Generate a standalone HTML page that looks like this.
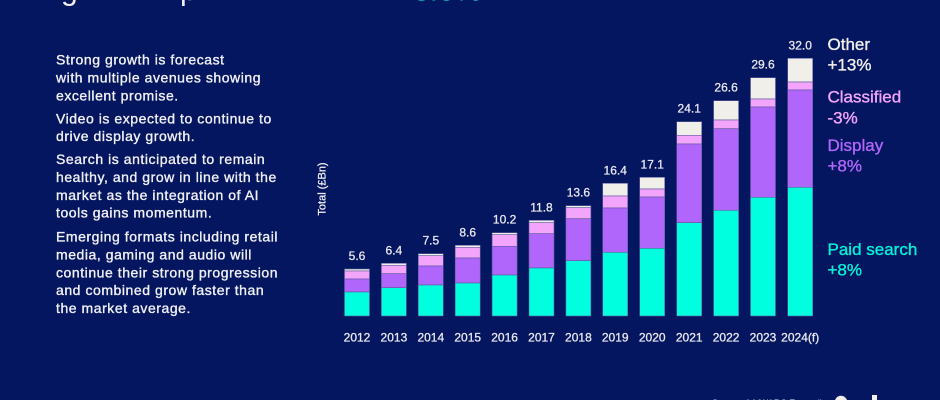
<!DOCTYPE html>
<html><head><meta charset="utf-8"><style>
html,body{margin:0;padding:0;}
body{width:940px;height:400px;background:#04165f;overflow:hidden;position:relative;font-family:"Liberation Sans",sans-serif;}
svg{position:absolute;left:0;top:0;}
</style></head><body>
<svg width="940" height="400" viewBox="0 0 940 400" xmlns="http://www.w3.org/2000/svg" font-family="Liberation Sans, sans-serif">
<rect width="940" height="400" fill="#04165f"/>
<!-- clipped title fragments -->
<text x="61" y="0" font-size="30" fill="#f2f0ee">g</text>
<text x="180" y="0" font-size="30" fill="#f2f0ee">p</text>
<text x="413" y="0.5" font-size="30" fill="#12c9c0">8.0%</text>

<!-- left text -->
<g font-size="14" fill="#f0f0f4" stroke="#f0f0f4" stroke-width="0.35" letter-spacing="0.55">
<text x="56" y="64.5">Strong growth is forecast</text>
<text x="56" y="82.5">with multiple avenues showing</text>
<text x="56" y="100.5">excellent promise.</text>
<text x="56" y="123.5">Video is expected to continue to</text>
<text x="56" y="141">drive display growth.</text>
<text x="56" y="164">Search is anticipated to remain</text>
<text x="56" y="182">healthy, and grow in line with the</text>
<text x="56" y="200">market as the integration of AI</text>
<text x="56" y="217.5">tools gains momentum.</text>
<text x="56" y="241.5">Emerging formats including retail</text>
<text x="56" y="259.5">media, gaming and audio will</text>
<text x="56" y="277.5">continue their strong progression</text>
<text x="56" y="295">and combined grow faster than</text>
<text x="56" y="313">the market average.</text>
</g>

<!-- y axis label -->
<text transform="translate(325.5,189) rotate(-90)" text-anchor="middle" font-size="11" fill="#f0f0f4" stroke="#f0f0f4" stroke-width="0.25">Total (£Bn)</text>

<!-- bars -->
<g stroke="#5d5a9c" stroke-width="0.6">
<rect x="344.5" y="269" width="25" height="2" fill="#f1efea"/>
<rect x="344.5" y="271" width="25" height="8" fill="#f3a5fc"/>
<rect x="344.5" y="279" width="25" height="13" fill="#b066fa"/>
<rect x="344.5" y="292" width="25" height="24" fill="#00ffdf"/>
<rect x="381.4" y="263.3" width="25" height="2" fill="#f1efea"/>
<rect x="381.4" y="265.3" width="25" height="8.4" fill="#f3a5fc"/>
<rect x="381.4" y="273.7" width="25" height="14" fill="#b066fa"/>
<rect x="381.4" y="287.7" width="25" height="28.3" fill="#00ffdf"/>
<rect x="418.3" y="253.7" width="25" height="2" fill="#f1efea"/>
<rect x="418.3" y="255.7" width="25" height="10.3" fill="#f3a5fc"/>
<rect x="418.3" y="266" width="25" height="19" fill="#b066fa"/>
<rect x="418.3" y="285" width="25" height="31" fill="#00ffdf"/>
<rect x="455.2" y="245.3" width="25" height="2" fill="#f1efea"/>
<rect x="455.2" y="247.3" width="25" height="10.7" fill="#f3a5fc"/>
<rect x="455.2" y="258" width="25" height="25" fill="#b066fa"/>
<rect x="455.2" y="283" width="25" height="33" fill="#00ffdf"/>
<rect x="492.1" y="232.7" width="25" height="2" fill="#f1efea"/>
<rect x="492.1" y="234.7" width="25" height="11.6" fill="#f3a5fc"/>
<rect x="492.1" y="246.3" width="25" height="28.7" fill="#b066fa"/>
<rect x="492.1" y="275" width="25" height="41" fill="#00ffdf"/>
<rect x="529" y="220.3" width="25" height="2.4" fill="#f1efea"/>
<rect x="529" y="222.7" width="25" height="11" fill="#f3a5fc"/>
<rect x="529" y="233.7" width="25" height="34.3" fill="#b066fa"/>
<rect x="529" y="268" width="25" height="48" fill="#00ffdf"/>
<rect x="565.9" y="205.7" width="25" height="2" fill="#f1efea"/>
<rect x="565.9" y="207.7" width="25" height="11" fill="#f3a5fc"/>
<rect x="565.9" y="218.7" width="25" height="42" fill="#b066fa"/>
<rect x="565.9" y="260.7" width="25" height="55.3" fill="#00ffdf"/>
<rect x="602.7" y="183.3" width="25" height="12.7" fill="#f1efea"/>
<rect x="602.7" y="196" width="25" height="12" fill="#f3a5fc"/>
<rect x="602.7" y="208" width="25" height="44.3" fill="#b066fa"/>
<rect x="602.7" y="252.3" width="25" height="63.7" fill="#00ffdf"/>
<rect x="639.7" y="177.3" width="25" height="11.7" fill="#f1efea"/>
<rect x="639.7" y="189" width="25" height="8" fill="#f3a5fc"/>
<rect x="639.7" y="197" width="25" height="51.3" fill="#b066fa"/>
<rect x="639.7" y="248.3" width="25" height="67.7" fill="#00ffdf"/>
<rect x="676.7" y="121.7" width="25" height="13.6" fill="#f1efea"/>
<rect x="676.7" y="135.3" width="25" height="8.7" fill="#f3a5fc"/>
<rect x="676.7" y="144" width="25" height="78.7" fill="#b066fa"/>
<rect x="676.7" y="222.7" width="25" height="93.3" fill="#00ffdf"/>
<rect x="713.6" y="100.7" width="25" height="19.3" fill="#f1efea"/>
<rect x="713.6" y="120" width="25" height="8.7" fill="#f3a5fc"/>
<rect x="713.6" y="128.7" width="25" height="81.6" fill="#b066fa"/>
<rect x="713.6" y="210.3" width="25" height="105.7" fill="#00ffdf"/>
<rect x="750.5" y="77.7" width="25" height="21.3" fill="#f1efea"/>
<rect x="750.5" y="99" width="25" height="8" fill="#f3a5fc"/>
<rect x="750.5" y="107" width="25" height="90.3" fill="#b066fa"/>
<rect x="750.5" y="197.3" width="25" height="118.7" fill="#00ffdf"/>
<rect x="787.7" y="58.3" width="25" height="23.7" fill="#f1efea"/>
<rect x="787.7" y="82" width="25" height="8" fill="#f3a5fc"/>
<rect x="787.7" y="90" width="25" height="97.3" fill="#b066fa"/>
<rect x="787.7" y="187.3" width="25" height="128.7" fill="#00ffdf"/>
</g>

<!-- value labels -->
<g font-size="12" fill="#e8e8f0" stroke="#e8e8f0" stroke-width="0.3" text-anchor="middle">
<text x="357" y="260">5.6</text>
<text x="393.9" y="254.3">6.4</text>
<text x="430.8" y="244.7">7.5</text>
<text x="467.7" y="236.3">8.6</text>
<text x="504.6" y="223.7">10.2</text>
<text x="541.5" y="211.3">11.8</text>
<text x="578.4" y="196.7">13.6</text>
<text x="615.2" y="174.3">16.4</text>
<text x="652.2" y="168.3">17.1</text>
<text x="689.2" y="112.7">24.1</text>
<text x="726.1" y="91.7">26.6</text>
<text x="763" y="68.7">29.6</text>
<text x="800.2" y="49.3">32.0</text>
</g>

<!-- year labels -->
<g font-size="12" fill="#e8e8f0" stroke="#e8e8f0" stroke-width="0.3" text-anchor="middle">
<text x="357" y="341.5">2012</text>
<text x="393.9" y="341.5">2013</text>
<text x="430.8" y="341.5">2014</text>
<text x="467.7" y="341.5">2015</text>
<text x="504.6" y="341.5">2016</text>
<text x="541.5" y="341.5">2017</text>
<text x="578.4" y="341.5">2018</text>
<text x="615.2" y="341.5">2019</text>
<text x="652.2" y="341.5">2020</text>
<text x="689.2" y="341.5">2021</text>
<text x="726.1" y="341.5">2022</text>
<text x="763" y="341.5">2023</text>
<text x="800.2" y="341.5">2024(f)</text>
</g>

<!-- legend -->
<g font-size="17" stroke-width="0.35">
<text x="827.5" y="50" fill="#f1efea" stroke="#f1efea">Other</text>
<text x="827.5" y="70.7" fill="#f1efea" stroke="#f1efea">+13%</text>
<text x="827.5" y="102.7" fill="#f3a5fc" stroke="#f3a5fc">Classified</text>
<text x="827.5" y="123.3" fill="#f3a5fc" stroke="#f3a5fc">-3%</text>
<text x="827.5" y="151" fill="#b066fa" stroke="#b066fa">Display</text>
<text x="827.5" y="171.7" fill="#b066fa" stroke="#b066fa">+8%</text>
<text x="827.5" y="255" fill="#00f0d8" stroke="#00f0d8">Paid search</text>
<text x="827.5" y="275.7" fill="#00f0d8" stroke="#00f0d8">+8%</text>
</g>

<!-- bottom-right clipped source / logo -->
<text x="712" y="406" font-size="9" fill="#e8e8f0">Source: AA/WARC Expenditure</text>
<circle cx="841" cy="402" r="6.2" fill="#f1efea"/>
<rect x="872" y="395" width="5" height="6" fill="#f1efea"/>
</svg>
</body></html>
